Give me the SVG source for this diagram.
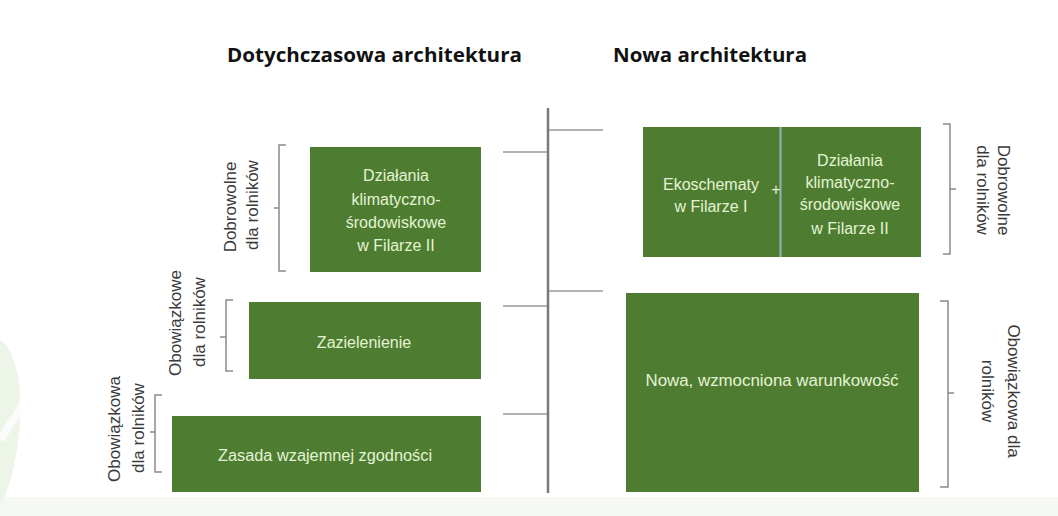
<svg xmlns="http://www.w3.org/2000/svg" width="1058" height="516" viewBox="0 0 1058 516">
<style>
.box{fill:#4e7d32}
.bt{font-family:"Liberation Sans",Arial,sans-serif;font-size:16px;fill:#e4f3d2;text-anchor:middle;dominant-baseline:central}
.lbl{font-family:"Liberation Sans",Arial,sans-serif;font-size:17px;fill:#3a3a3a;text-anchor:middle;dominant-baseline:central}
.title{font-family:"Open Sans","Liberation Sans",sans-serif;font-size:19px;font-weight:bold;fill:#111}
.br{fill:none;stroke:#8a8a8a;stroke-width:1.5}
.stub{stroke:#9a9a9a;stroke-width:1.5}
</style>
<rect x="0" y="0" width="1058" height="516" fill="#ffffff"/>
<rect x="0" y="497" width="1058" height="19" fill="#f6f9f3"/>
<path d="M0,340 C16,350 22,385 20,420 C18,455 10,490 0,505 Z" fill="#edf4e8"/>
<path d="M0,440 L26,400" stroke="#ffffff" stroke-width="8" opacity="0.8"/>

<text class="title" x="227" y="62" textLength="295" lengthAdjust="spacingAndGlyphs">Dotychczasowa architektura</text>
<text class="title" x="613" y="62" textLength="194" lengthAdjust="spacingAndGlyphs">Nowa architektura</text>

<g id="connectors">
<line x1="548" y1="108" x2="548" y2="493" stroke="#7a7a7a" stroke-width="2.5"/>
<line class="stub" x1="503" y1="152" x2="547" y2="152"/>
<line class="stub" x1="503" y1="306" x2="547" y2="306"/>
<line class="stub" x1="503" y1="414" x2="547" y2="414"/>
<line class="stub" x1="549" y1="130" x2="603" y2="130"/>
<line class="stub" x1="549" y1="291" x2="603" y2="291"/>
</g>

<g id="node-klimat-old">
<rect class="box" x="310" y="147" width="171" height="125"/>
<text class="bt" x="396" y="175">Działania</text>
<text class="bt" x="396" y="199">klimatyczno-</text>
<text class="bt" x="396" y="222">środowiskowe</text>
<text class="bt" x="396" y="245">w Filarze II</text>
</g>

<g id="node-zazielenienie">
<rect class="box" x="249" y="302" width="232" height="77"/>
<text class="bt" x="364" y="342">Zazielenienie</text>
</g>

<g id="node-zgodnosc">
<rect class="box" x="172" y="416" width="309" height="76"/>
<text class="bt" x="325" y="455" textLength="214" lengthAdjust="spacingAndGlyphs">Zasada wzajemnej zgodności</text>
</g>

<g id="node-eko">
<rect class="box" x="643" y="127" width="278" height="130"/>
<line x1="780.5" y1="127" x2="780.5" y2="257" stroke="#8fb3bf" stroke-width="2"/>
<text class="bt" x="711" y="184">Ekoschematy</text>
<text class="bt" x="711" y="206">w Filarze I</text>
<text class="bt" x="776" y="189">+</text>
<text class="bt" x="850" y="160">Działania</text>
<text class="bt" x="850" y="182">klimatyczno-</text>
<text class="bt" x="850" y="204">środowiskowe</text>
<text class="bt" x="850" y="228">w Filarze II</text>
</g>

<g id="node-warunkowosc">
<rect class="box" x="626" y="293" width="293" height="199"/>
<text class="bt" x="772" y="380" textLength="253" lengthAdjust="spacingAndGlyphs">Nowa, wzmocniona warunkowość</text>
</g>

<g id="bracket-l1">
<path class="br" d="M286,145 H279 V271 H286 M279,208 H274"/>
<text class="lbl" transform="translate(230,207) rotate(-90)">Dobrowolne</text>
<text class="lbl" transform="translate(252,205) rotate(-90)">dla rolników</text>
</g>

<g id="bracket-l2">
<path class="br" d="M233,300 H226 V371 H233 M226,337 H220"/>
<text class="lbl" transform="translate(175,323) rotate(-90)">Obowiązkowe</text>
<text class="lbl" transform="translate(199,322) rotate(-90)">dla rolników</text>
</g>

<g id="bracket-l3">
<path class="br" d="M162,395 H155 V472 H162 M155,432 H150"/>
<text class="lbl" transform="translate(114,429) rotate(-90)">Obowiązkowa</text>
<text class="lbl" transform="translate(138,428) rotate(-90)">dla rolników</text>
</g>

<g id="bracket-r1">
<path class="br" d="M943,124 H950 V254 H943 M950,189 H956"/>
<text class="lbl" transform="translate(1003,190) rotate(90)">Dobrowolne</text>
<text class="lbl" transform="translate(982,190) rotate(90)">dla rolników</text>
</g>

<g id="bracket-r2">
<path class="br" d="M940,301 H948 V487 H940 M948,393 H954"/>
<text class="lbl" transform="translate(1013,391) rotate(90)">Obowiązkowa dla</text>
<text class="lbl" transform="translate(987,391) rotate(90)">rolników</text>
</g>
</svg>
